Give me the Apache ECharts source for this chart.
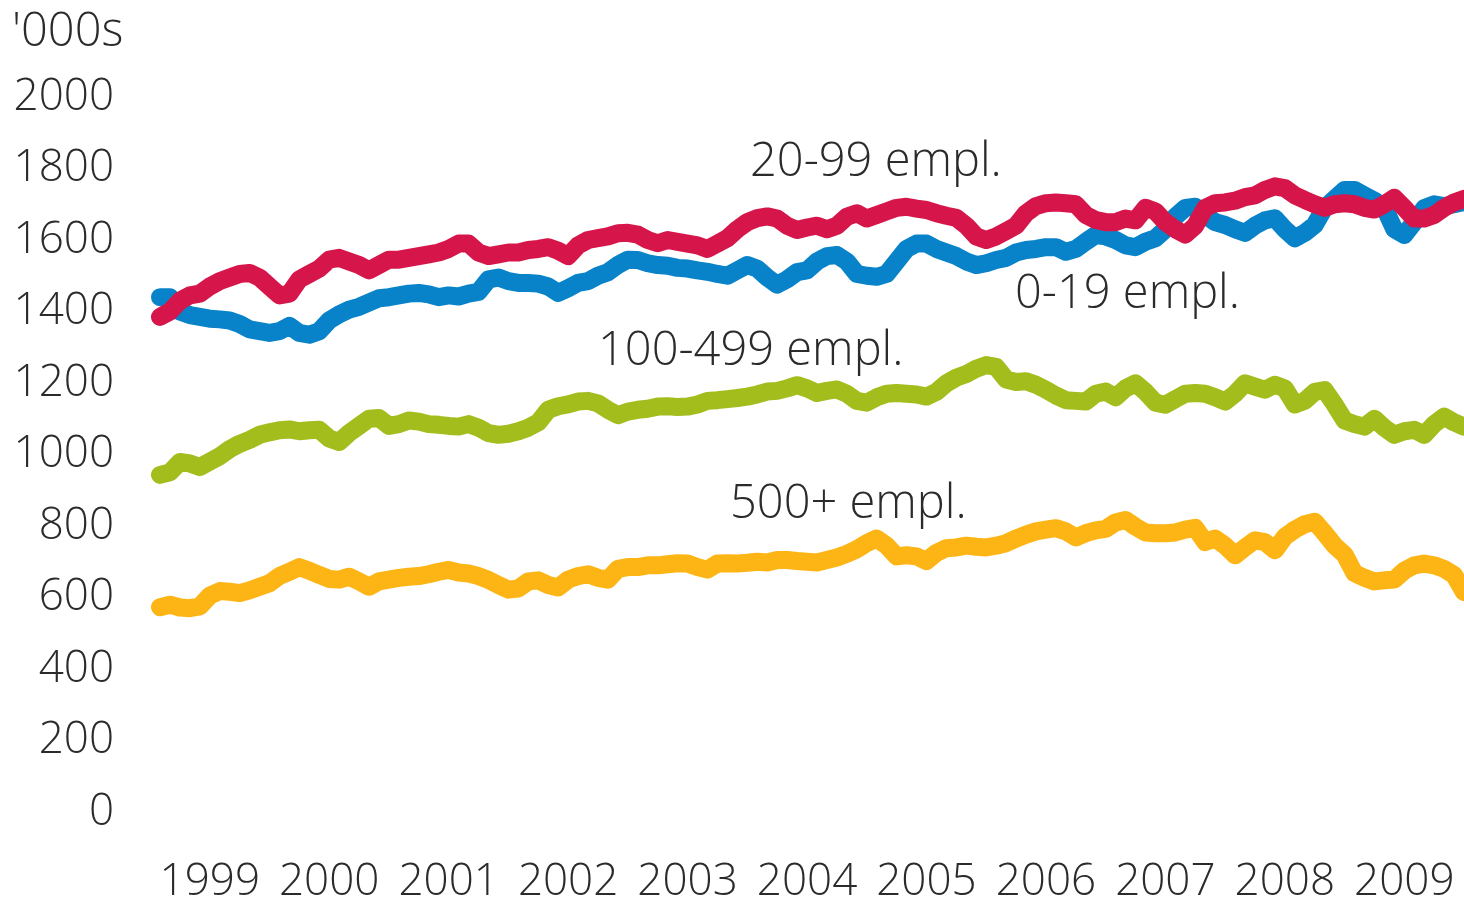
<!DOCTYPE html>
<html>
<head>
<meta charset="utf-8">
<script src="https://cdn.jsdelivr.net/npm/echarts@6/dist/echarts.min.js"></script>
<style>
html,body{margin:0;padding:0;background:#fff;}
#chart{width:1464px;height:899px;}
</style>
</head>
<body>
<div id="chart"></div>
<script>
// ---- data ----
const years = ['1999','2000','2001','2002','2003','2004','2005','2006','2007','2008','2009'];
const yTicks = [0,200,400,600,800,1000,1200,1400,1600,1800,2000];

// monthly values ('000s), Jan 1999 - Dec 2009
const empl0_19 = [
  1440,1440,1400,1390,1385,1380,1378,1375,1365,1350,1345,1340,
  1345,1360,1340,1335,1345,1375,1392,1405,1413,1425,1437,1440,
  1445,1450,1452,1448,1440,1445,1442,1450,1455,1490,1495,1485,
  1480,1480,1478,1470,1452,1465,1480,1485,1500,1510,1530,1545,
  1544,1535,1530,1528,1522,1520,1515,1511,1505,1500,1515,1530,
  1520,1495,1475,1490,1510,1515,1540,1555,1558,1540,1505,1500,
  1497,1505,1540,1575,1590,1590,1575,1565,1555,1540,1530,1535,
  1544,1550,1565,1572,1575,1580,1580,1567,1575,1595,1614,1610,
  1600,1585,1580,1595,1605,1630,1665,1690,1693,1670,1650,1642,
  1630,1620,1640,1655,1661,1630,1605,1620,1642,1690,1715,1740,
  1740,1725,1710,1690,1630,1614,1650,1689,1700,1695,1700,1706
];
const empl20_99 = [
  1385,1400,1430,1445,1450,1470,1485,1495,1505,1508,1495,1470,
  1445,1450,1490,1505,1520,1545,1550,1540,1530,1515,1530,1545,
  1545,1550,1555,1560,1565,1575,1590,1590,1565,1555,1560,1565,
  1565,1572,1575,1580,1570,1555,1585,1600,1605,1610,1619,1620,
  1615,1600,1591,1600,1595,1590,1585,1575,1590,1605,1630,1650,
  1661,1666,1660,1640,1628,1635,1640,1630,1640,1665,1675,1660,
  1670,1680,1690,1693,1688,1684,1675,1668,1662,1640,1610,1600,
  1610,1625,1640,1675,1695,1703,1705,1703,1700,1670,1656,1650,
  1650,1660,1655,1690,1680,1650,1630,1615,1640,1690,1703,1705,
  1710,1720,1725,1740,1750,1745,1725,1712,1700,1690,1700,1703,
  1700,1690,1685,1700,1718,1690,1660,1660,1670,1690,1705,1715
];
const empl100_499 = [
  943,950,979,975,965,980,995,1015,1030,1041,1055,1062,
  1068,1070,1065,1068,1069,1045,1035,1060,1080,1100,1102,1080,
  1085,1095,1092,1085,1083,1080,1078,1085,1075,1060,1055,1058,
  1065,1075,1090,1125,1135,1140,1148,1150,1143,1125,1110,1120,
  1125,1128,1134,1135,1133,1134,1140,1150,1152,1155,1158,1162,
  1168,1176,1178,1185,1194,1185,1172,1178,1182,1170,1150,1145,
  1160,1170,1172,1170,1168,1162,1175,1199,1215,1225,1240,1250,
  1245,1210,1203,1205,1195,1181,1165,1152,1150,1148,1170,1176,
  1160,1185,1199,1175,1145,1139,1155,1170,1172,1170,1160,1148,
  1170,1199,1190,1181,1195,1185,1140,1150,1175,1180,1140,1095,
  1085,1078,1100,1075,1055,1065,1069,1055,1085,1106,1090,1078
];
const empl500plus = [
  573,580,572,570,575,605,618,616,612,620,630,640,
  660,672,685,675,663,652,650,658,645,630,645,650,
  655,658,660,665,672,677,670,667,660,649,635,622,
  625,645,648,635,628,650,660,665,655,650,680,685,
  685,690,690,693,696,695,685,678,695,696,695,697,
  700,698,705,705,702,700,698,705,712,722,735,752,
  765,745,715,718,715,702,725,738,740,745,742,740,
  745,752,765,776,785,790,794,785,768,780,788,792,
  810,817,798,782,780,780,782,790,795,755,765,745,
  718,740,760,755,732,770,790,805,812,780,745,720,
  668,655,645,648,650,675,690,695,690,680,663,615
];
const seriesNames = ['0-19 empl.','20-99 empl.','100-499 empl.','500+ empl.'];
const unitLabel = "'000s";

// categories: one per month
const months = [];
years.forEach(y => { for (let m = 1; m <= 12; m++) months.push(y + '-' + (m < 10 ? '0' + m : m)); });

const FONT = '"Open Sans", "Noto Sans", sans-serif';
const TXT = '#2b2b2b';

const chart = echarts.init(document.getElementById('chart'), null, {renderer: 'canvas'});

function lineSeries(name, data, color) {
  return {
    name: name, type: 'line', data: data, showSymbol: false, symbol: 'none',
    smooth: false, animation: false,
    lineStyle: {width: 18, color: color, cap: 'round', join: 'round'},
    emphasis: {disabled: true}
  };
}

function note(text, x, y) {
  return {type: 'text', x: x, y: y, silent: true,
    style: {text: text, font: '300 47px ' + FONT, fill: TXT, align: 'left', verticalAlign: 'middle'}};
}

chart.setOption({
  animation: false,
  backgroundColor: '#ffffff',
  grid: {left: 160, right: 0, top: 97, bottom: 87, containLabel: false, outerBoundsMode: 'none'},
  xAxis: {
    type: 'category', data: months, boundaryGap: false,
    axisLine: {show: false}, axisTick: {show: false}, splitLine: {show: false},
    axisLabel: {
      interval: (idx) => idx % 12 === 5,
      formatter: (v) => v.slice(0, 4),
      fontFamily: FONT, fontWeight: 300, fontSize: 44, color: TXT, margin: 48
    }
  },
  yAxis: {
    type: 'value', min: yTicks[0], max: yTicks[yTicks.length - 1], interval: 200,
    axisLine: {show: false}, axisTick: {show: false}, splitLine: {show: false},
    axisLabel: {formatter: (v) => String(v), fontFamily: FONT, fontWeight: 300, fontSize: 44, color: TXT, margin: 46}
  },
  series: [
    lineSeries(seriesNames[3], empl500plus, '#FDB515'),
    lineSeries(seriesNames[2], empl100_499, '#A3BD1C'),
    lineSeries(seriesNames[0], empl0_19, '#0883C9'),
    lineSeries(seriesNames[1], empl20_99, '#D6164B')
  ],
  graphic: [
    note(unitLabel, 12, 33),
    note(seriesNames[1], 750, 163),
    note(seriesNames[0], 1015, 295),
    note(seriesNames[2], 598, 352),
    note(seriesNames[3], 730, 505)
  ]
});
</script>
</body>
</html>
